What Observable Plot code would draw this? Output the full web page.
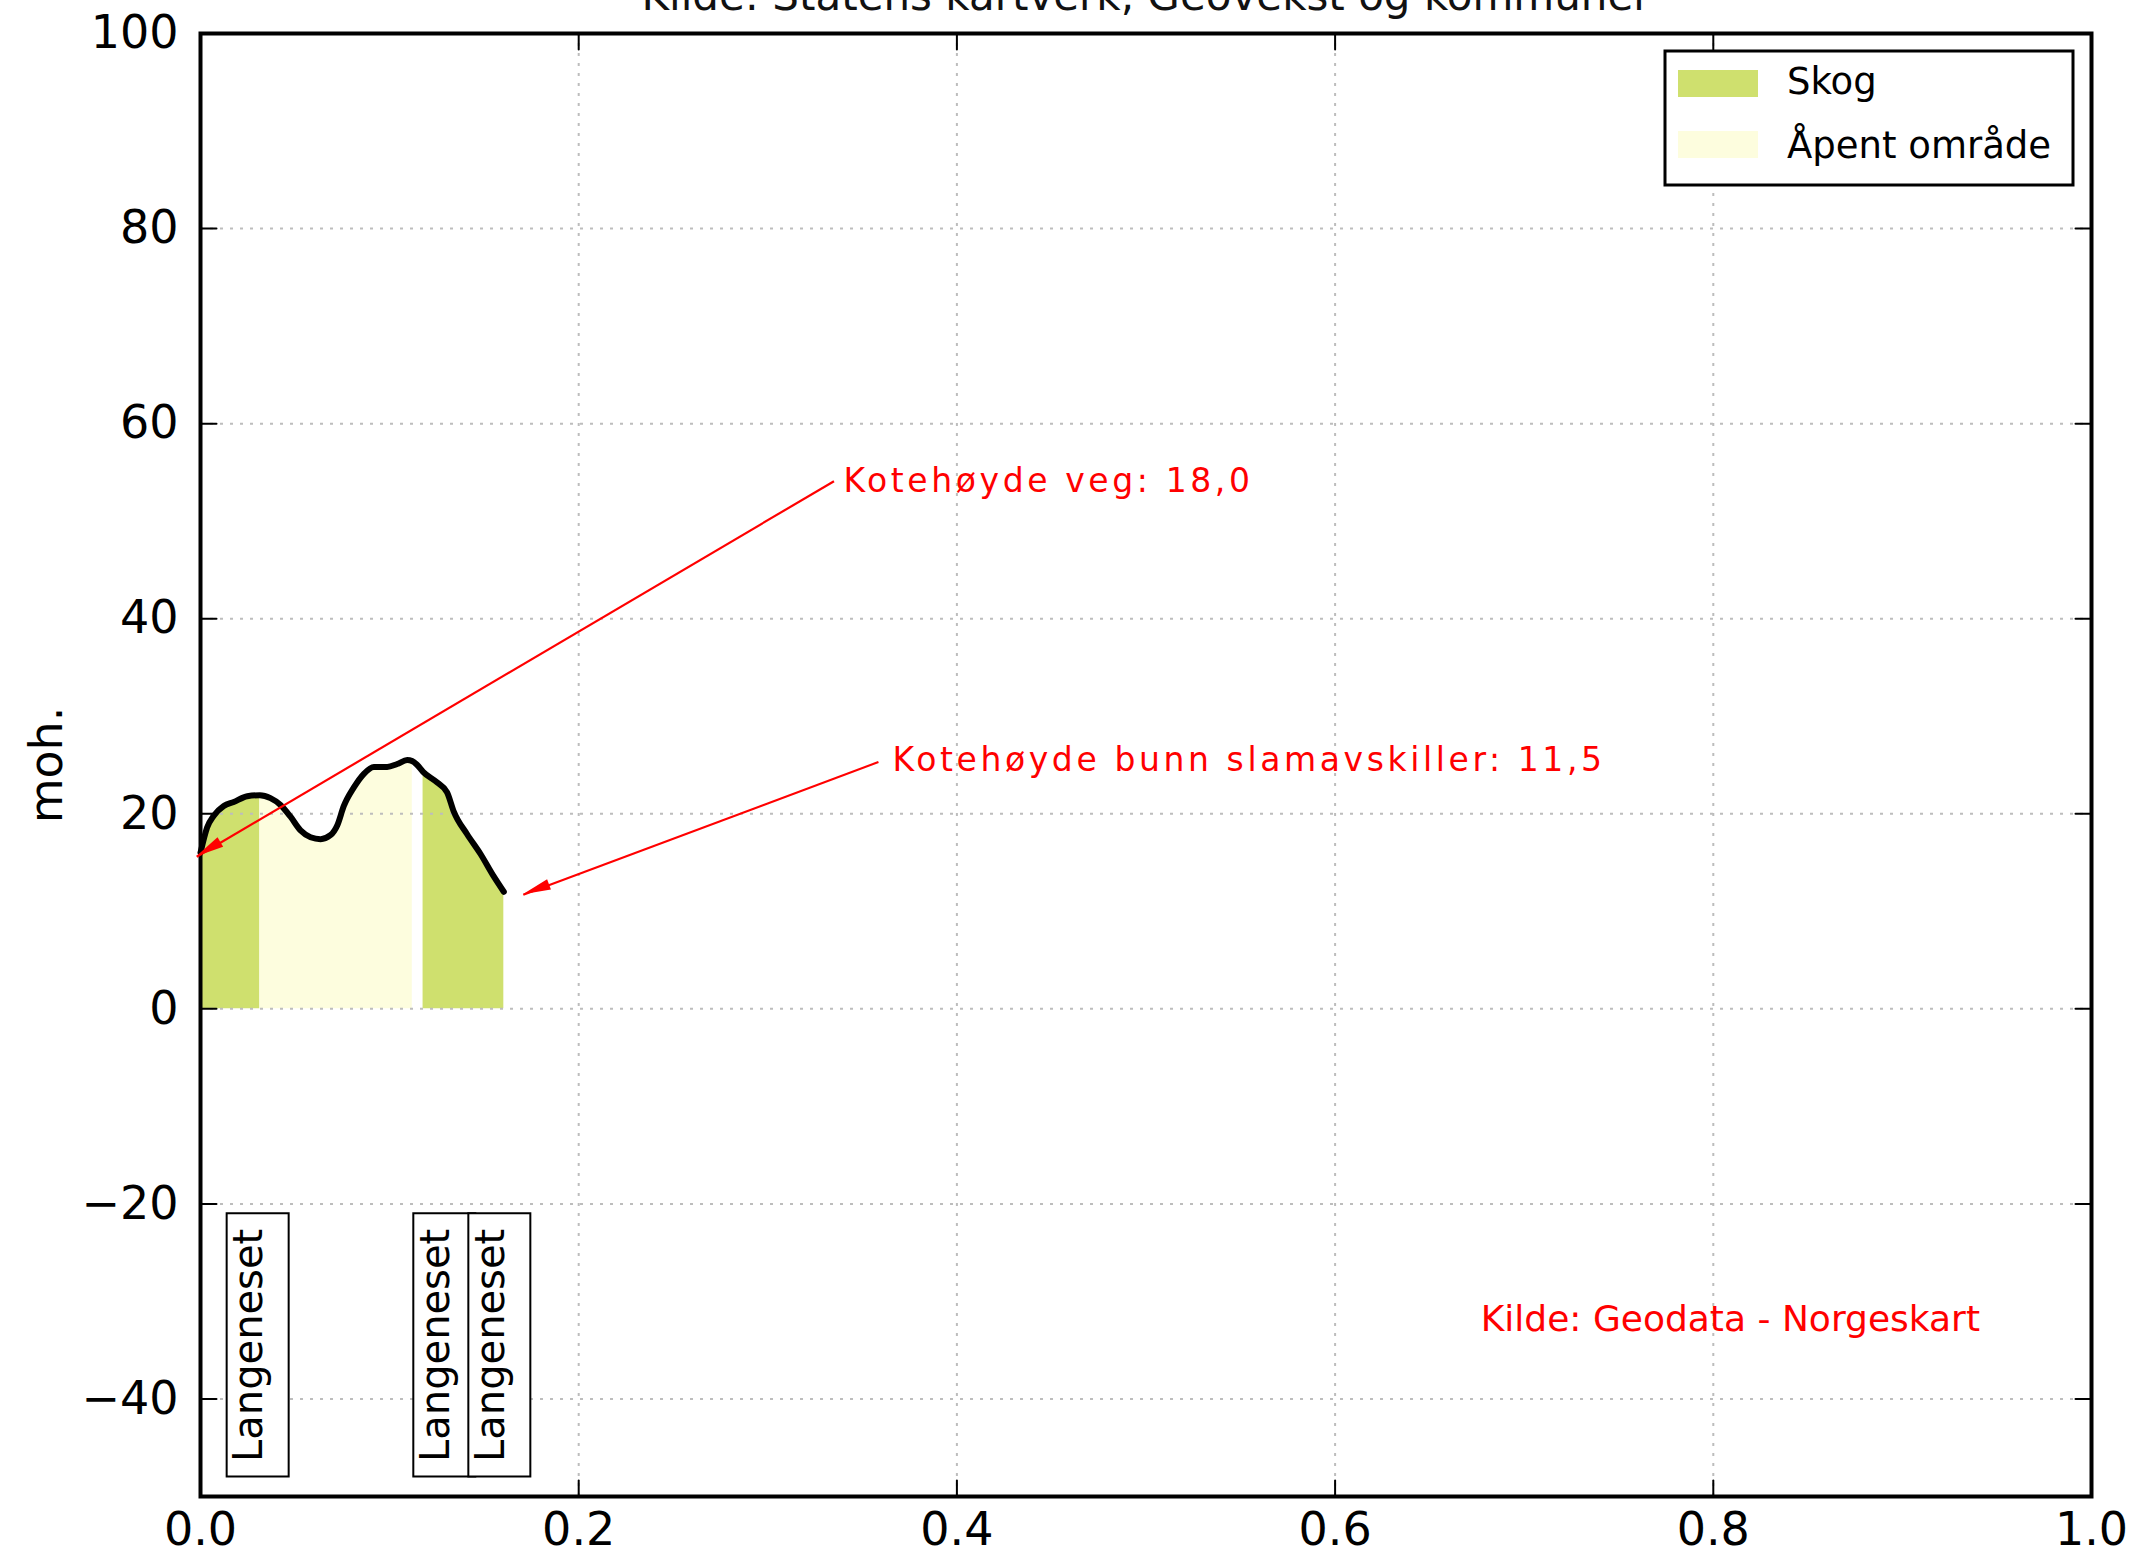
<!DOCTYPE html>
<html>
<head>
<meta charset="utf-8">
<script src="https://cdn.jsdelivr.net/npm/d3@7"></script>
<script src="https://cdn.jsdelivr.net/npm/@observablehq/plot@0.6"></script>
<style>
html, body { margin: 0; padding: 0; background: #fff; }
#chart svg { display: block; }
text[aria-label="annot"], g[aria-label="annot"] text { letter-spacing: 3.6px; }
</style>
</head>
<body>
<div id="chart"></div>
<script>
// ---- Data ----
const distance = [0.000, 0.0035, 0.007, 0.0123, 0.0176, 0.0247, 0.0314, 0.037, 0.0423, 0.0476,
  0.0529, 0.0582, 0.0635, 0.0687, 0.0723, 0.0758, 0.0811, 0.0864, 0.0917, 0.0987,
  0.104, 0.1093, 0.112, 0.1146, 0.1177, 0.1252, 0.1304, 0.134, 0.141, 0.148, 0.155, 0.1604];
const elevation = [16.0, 18.6, 19.8, 20.8, 21.2, 21.8, 21.9, 21.6, 20.9, 19.7,
  18.3, 17.6, 17.4, 17.8, 18.8, 20.8, 22.7, 24.1, 24.8, 24.8,
  25.1, 25.5, 25.4, 25.0, 24.3, 23.2, 22.2, 20.2, 17.9, 15.9, 13.6, 12.0];

const coverFrom = [0, 0.0314, 0.1177];
const coverTo = [0.0314, 0.112, 0.1604];
const coverType = ["Skog", "Åpent område", "Skog"];

const legendLabels = ["Skog", "Åpent område"];
const legendColors = ["#cfe06e", "#fdfdde"];

const placeLabels = ["Langeneset", "Langeneset", "Langeneset"];
const placeX = [0.0141, 0.1128, 0.1419];
const placeY = [-48, -48, -48];

const xTicks = [0, 0.2, 0.4, 0.6, 0.8, 1.0];
const yTicks = [-40, -20, 0, 20, 40, 60, 80, 100];

const annotText = ["Kotehøyde veg: 18,0", "Kotehøyde bunn slamavskiller: 11,5"];
const annotX = [0.340, 0.366];
const annotY = [54.1, 25.5];
const arrowFromX = [0.335, 0.3585];
const arrowFromY = [54.1, 25.3];
const arrowToX = [-0.002, 0.1707];
const arrowToY = [15.6, 11.7];

const sourceText = ["Kilde: Geodata - Norgeskart"];
const sourceX = [0.677];
const sourceY = [-31.9];

const titleText = ["Kilde: Statens kartverk, Geovekst og kommuner"];
const yLabel = ["moh."];

// ---- Tables built from the arrays ----
const profile = distance.map((d, i) => ({d, h: elevation[i]}));
const coverRows = coverType.flatMap((t, s) =>
  profile.filter(p => p.d >= coverFrom[s] - 1e-9 && p.d <= coverTo[s] + 1e-9)
         .map(p => ({...p, seg: s, type: t})));
const placeRows = placeLabels.map((t, i) => ({t, x: placeX[i], y: placeY[i]}));
const annotRows = annotText.map((t, i) => ({t, x: annotX[i], y: annotY[i]}));
const arrowRows = arrowFromX.map((_, i) => ({x1: arrowFromX[i], y1: arrowFromY[i], x2: arrowToX[i], y2: arrowToY[i]}));
const sourceRows = sourceText.map((t, i) => ({t, x: sourceX[i], y: sourceY[i]}));

const FONT = "DejaVu Sans";
const tickShape = {draw(context, l) { context.moveTo(0, 0); context.lineTo(0, -l); }};
const gridStyle = {stroke: "#bdbdbd", strokeWidth: 2, strokeDasharray: "3,7"};
const tickStyle = {length: 16, anchor: "start", shape: tickShape, stroke: "black", strokeWidth: 2};

function placeBoxes(index, scales) {
  const g = d3.create("svg:g");
  const ctx = document.createElement("canvas").getContext("2d");
  ctx.font = `40px '${FONT}'`;
  placeRows.forEach(r => {
    const len = ctx.measureText(r.t).width;
    const left = scales.x(r.x), bottom = scales.y(r.y);
    g.append("rect")
      .attr("x", left).attr("y", bottom - len - 30)
      .attr("width", 62).attr("height", len + 30)
      .attr("fill", "white").attr("stroke", "black").attr("stroke-width", 2);
  });
  return g.node();
}

function arrowHeads(index, scales) {
  const g = d3.create("svg:g").attr("fill", "red");
  arrowRows.forEach(r => {
    const x1 = scales.x(r.x1), y1 = scales.y(r.y1), x2 = scales.x(r.x2), y2 = scales.y(r.y2);
    const a = Math.atan2(y2 - y1, x2 - x1);
    const L = 28, W = 5.5;
    const bx = x2 - L * Math.cos(a), by = y2 - L * Math.sin(a);
    const px = -Math.sin(a) * W, py = Math.cos(a) * W;
    g.append("path").attr("d", `M${x2},${y2}L${bx + px},${by + py}L${bx - px},${by - py}Z`);
  });
  return g.node();
}

function legendMark(index, scales, values, dim) {
  const g = d3.create("svg:g");
  const right = dim.width - dim.marginRight - 18, top = dim.marginTop + 18;
  const w = 408, h = 134, left = right - w;
  g.append("rect").attr("x", left).attr("y", top).attr("width", w).attr("height", h)
    .attr("fill", "white").attr("stroke", "black").attr("stroke-width", 3);
  legendLabels.forEach((lab, i) => {
    g.append("rect").attr("x", left + 13).attr("y", top + 19 + i * 61)
      .attr("width", 80).attr("height", 27).attr("fill", legendColors[i]);
    g.append("text").attr("x", left + 122).attr("y", top + 43 + i * 64)
      .attr("text-anchor", "start")
      .attr("font-family", FONT).attr("font-size", 37).attr("fill", "black").text(lab);
  });
  return g.node();
}

const chart = Plot.plot({
  width: 2151,
  height: 1557,
  marginTop: 33,
  marginRight: 60,
  marginBottom: 61,
  marginLeft: 200,
  style: {background: "white", fontFamily: FONT},
  x: {domain: [0, 1]},
  y: {domain: [-50, 100]},
  color: {domain: legendLabels, range: legendColors},
  marks: [
    Plot.areaY(coverRows, {x: "d", y1: 0, y2: "h", z: "seg", fill: "type", curve: "monotone-x"}),
    Plot.ruleX(xTicks.filter(d => d > 0 && d < 1), gridStyle),
    Plot.ruleY(yTicks.filter(d => d < 100), gridStyle),
    Plot.line(profile, {x: "d", y: "h", stroke: "black", strokeWidth: 6, curve: "monotone-x", strokeLinejoin: "round", strokeLinecap: "round"}),
    Plot.frame({stroke: "black", strokeWidth: 4}),
    Plot.vector(xTicks, {x: d => d, frameAnchor: "bottom", rotate: 0, ...tickStyle}),
    Plot.vector(xTicks, {x: d => d, frameAnchor: "top", rotate: 180, ...tickStyle}),
    Plot.vector(yTicks, {y: d => d, frameAnchor: "left", rotate: 90, ...tickStyle}),
    Plot.vector(yTicks, {y: d => d, frameAnchor: "right", rotate: -90, ...tickStyle}),
    Plot.axisX(xTicks, {tickSize: 0, tickPadding: 16, fontSize: 46, fontFamily: FONT, tickFormat: d3.format(".1f"), label: null}),
    Plot.axisY(yTicks, {tickSize: 0, tickPadding: 22, fontSize: 46, fontFamily: FONT, tickFormat: d3.format("d"), label: null}),
    Plot.text(yLabel, {frameAnchor: "left", dx: -153, rotate: -90, textAnchor: "middle", fontSize: 46, fontFamily: FONT, lineAnchor: "middle", fill: "black"}),
    Plot.text(titleText, {frameAnchor: "top", dy: -37.4, textAnchor: "middle", fontSize: 42, fontFamily: FONT, lineAnchor: "middle", fill: "#111"}),
    placeBoxes,
    Plot.text(placeRows, {x: "x", y: "y", text: "t", rotate: -90, textAnchor: "start", lineAnchor: "top", dx: 6.6, dy: -15, fontSize: 40, fontFamily: FONT, fill: "black"}),
    Plot.link(arrowRows, {x1: "x1", y1: "y1", x2: "x2", y2: "y2", stroke: "red", strokeWidth: 2.2}),
    arrowHeads,
    Plot.text(annotRows, {x: "x", y: "y", text: "t", textAnchor: "start", lineAnchor: "middle", fill: "red", fontSize: 33, fontFamily: FONT, ariaLabel: () => "annot"}),
    Plot.text(sourceRows, {x: "x", y: "y", text: "t", textAnchor: "start", lineAnchor: "middle", fill: "red", fontSize: 36, fontFamily: FONT}),
    legendMark
  ]
});

document.getElementById("chart").appendChild(chart);
</script>
</body>
</html>
